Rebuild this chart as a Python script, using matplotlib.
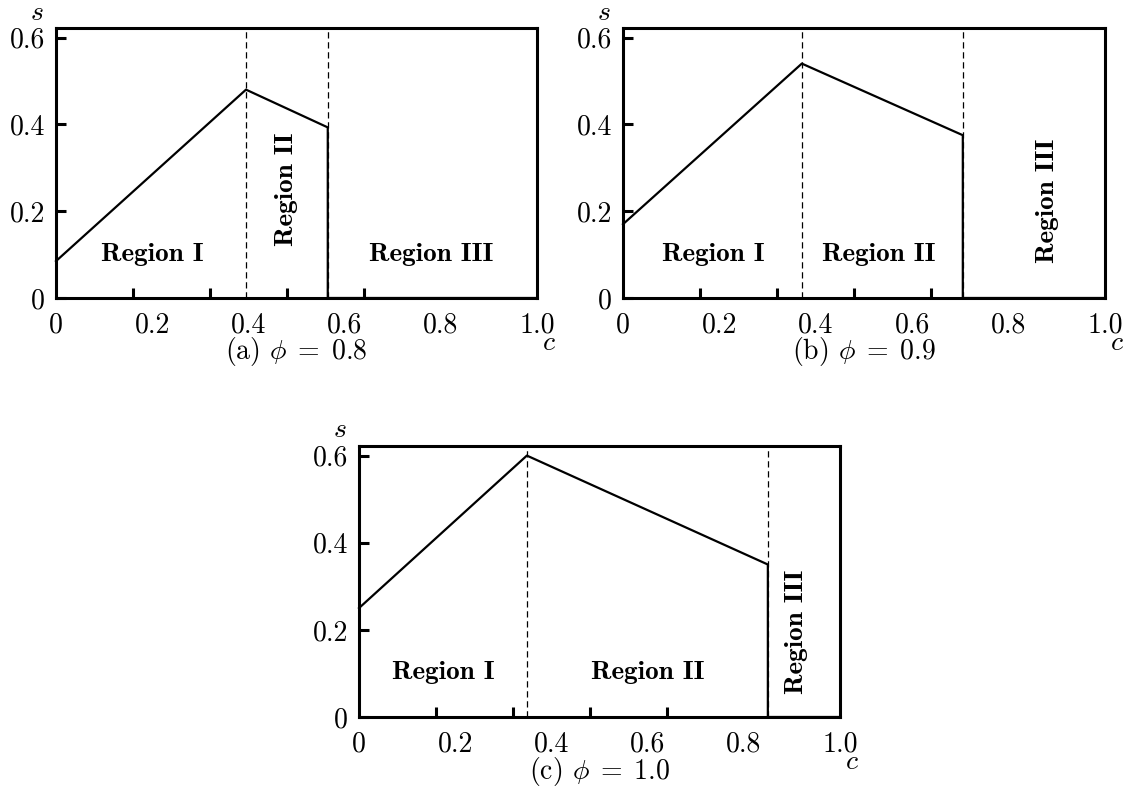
import matplotlib
matplotlib.use("Agg")
import matplotlib.pyplot as plt
import numpy as np

plt.rcParams["font.family"] = "cmr10"
plt.rcParams["mathtext.fontset"] = "cm"
plt.rcParams["axes.unicode_minus"] = False

# data: (c, s) corners of each boundary curve
phi_vals = [0.8, 0.9, 1.0]
c_peak = [0.395, 0.371, 0.349]
s_start = [0.085, 0.17, 0.25]
s_peak = [0.48, 0.54, 0.60]
c_drop = [0.565, 0.705, 0.85]
s_drop = [0.393, 0.375, 0.35]

x_tick_vals = [0, 0.2, 0.4, 0.6, 0.8, 1.0]
x_tick_labels = ["0", "0.2", "0.4", "0.6", "0.8", "1.0"]
x_marks = [0.16, 0.32, 0.48, 0.64, 0.80]
y_tick_vals = [0, 0.2, 0.4, 0.6]
y_tick_labels = ["0", "0.2", "0.4", "0.6"]

# region label positions (c, s, rotation) per panel
region_labels = [
    [("Region I", 0.20, 0.10, 0), ("Region II", 0.48, 0.25, 90), ("Region III", 0.78, 0.10, 0)],
    [("Region I", 0.187, 0.10, 0), ("Region II", 0.53, 0.10, 0), ("Region III", 0.88, 0.225, 90)],
    [("Region I", 0.175, 0.103, 0), ("Region II", 0.60, 0.103, 0), ("Region III", 0.91, 0.195, 90)],
]
panel_tags = ["(a)", "(b)", "(c)"]

W, H = 1127, 801
fig = plt.figure(figsize=(W / 100, H / 100), dpi=100)
boxes = [(56, 28, 537, 298), (623, 28, 1105, 298), (359, 446, 840, 717)]

for i, (l, t, r, b) in enumerate(boxes):
    ax = fig.add_axes([l / W, (H - b) / H, (r - l) / W, (b - t) / H])
    cx = [0, c_peak[i], c_drop[i], c_drop[i], 1.0]
    sy = [s_start[i], s_peak[i], s_drop[i], 0, 0]
    ax.plot(cx, sy, color="black", lw=1.6, clip_on=False, zorder=3)
    for xv in [c_peak[i], c_drop[i]]:
        ax.axvline(xv, color="black", lw=0.9, ls=(0, (5, 3)), zorder=2)

    ax.set_xlim(0, 1.0)
    ax.set_ylim(0, 0.622)
    for sp in ax.spines.values():
        sp.set_linewidth(2.2)

    ax.set_xticks(x_tick_vals)
    ax.set_xticklabels(x_tick_labels)
    ax.set_xticks(x_marks, minor=True)
    ax.tick_params(axis="x", which="major", length=0, pad=10, labelsize=20)
    ax.tick_params(axis="x", which="minor", direction="in", length=7, width=2.2)
    ax.set_yticks(y_tick_vals)
    ax.set_yticklabels(y_tick_labels)
    ax.tick_params(axis="y", direction="in", length=7, width=2.2, pad=8, labelsize=20)

    for txt, xv, yv, rot in region_labels[i]:
        ax.text(xv, yv, txt, family="cmb10", fontsize=19.5, rotation=rot,
                ha="center", va="center")

    ax.text(1.025, -0.165, "$c$", transform=ax.transAxes, fontsize=20,
            ha="center", va="center")
    ax.text(-0.04, 1.058, "$s$", transform=ax.transAxes, fontsize=20,
            ha="center", va="center")
    ax.text(0.5, -0.2, panel_tags[i] + r" $\phi\;=\;%.1f$" % phi_vals[i],
            transform=ax.transAxes, fontsize=20, ha="center", va="center")

fig.savefig("out.png", dpi=100)
